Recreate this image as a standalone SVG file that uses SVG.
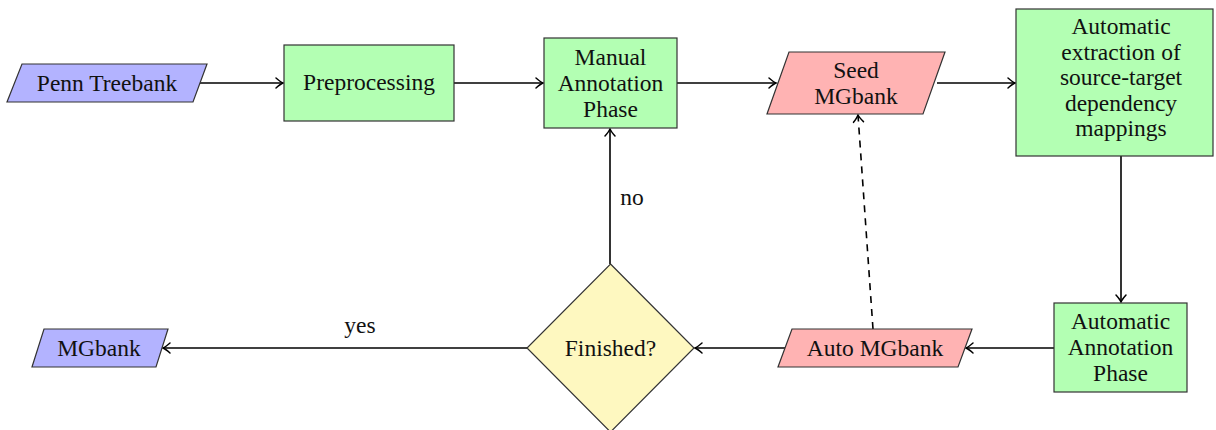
<svg xmlns="http://www.w3.org/2000/svg" width="1216" height="430" viewBox="0 0 1216 430">
  <defs>
    <marker id="arrow" markerUnits="userSpaceOnUse" markerWidth="14" markerHeight="14" viewBox="-8 -7 10 14" refX="0" refY="0" orient="auto">
      <path d="M -7 -5 Q -2.5 -1 0 0 Q -2.5 1 -7 5" fill="none" stroke="#000" stroke-width="1.5" stroke-linecap="round"/>
    </marker>
    <style>
      text { font-size: 23.5px; fill: #111; text-anchor: middle; }
      .data { fill: #b3b3ff; stroke: #333; stroke-width: 1.2; }
      .proc { fill: #b3ffb3; stroke: #333; stroke-width: 1.2; }
      .store { fill: #ffb3b3; stroke: #333; stroke-width: 1.2; }
      .decision { fill: #fef8c0; stroke: #333; stroke-width: 1.2; }
      .edge { fill: none; stroke: #000; stroke-width: 1.6; marker-end: url(#arrow); }
      .dashed { stroke-dasharray: 7 6; }
    </style>
  </defs>

  <g font-family="'Liberation Serif', 'DejaVu Serif', serif">
  <!-- connectors -->
  <g id="connectors">
    <line class="edge" x1="200" y1="83" x2="283" y2="83"/>
    <line class="edge" x1="454" y1="83" x2="543" y2="83"/>
    <line class="edge" x1="677" y1="83" x2="776" y2="83"/>
    <line class="edge" x1="937" y1="83" x2="1015" y2="83"/>
    <line class="edge" x1="1121" y1="156" x2="1121" y2="302"/>
    <line class="edge" x1="1054" y1="348" x2="966" y2="348"/>
    <line class="edge" x1="785" y1="348" x2="695" y2="348"/>
    <line class="edge dashed" x1="873" y1="329" x2="858" y2="115"/>
    <line class="edge" x1="610" y1="264" x2="610" y2="129"/>
    <line class="edge" x1="527" y1="348" x2="163" y2="348"/>
    <text x="632" y="205">no</text>
    <text x="360" y="333">yes</text>
  </g>

  <g id="penn-treebank">
    <polygon class="data" points="22,64 207,64 193,102 7,102"/>
    <text x="107" y="91">Penn Treebank</text>
  </g>

  <g id="preprocessing">
    <rect class="proc" x="284" y="45" width="170" height="76"/>
    <text x="369" y="90">Preprocessing</text>
  </g>

  <g id="manual-annotation">
    <rect class="proc" x="544" y="38" width="133" height="90"/>
    <text x="610.5" y="65">Manual</text>
    <text x="610.5" y="91">Annotation</text>
    <text x="610.5" y="117">Phase</text>
  </g>

  <g id="seed-mgbank">
    <polygon class="store" points="789,52 945,52 923,114 767,114"/>
    <text x="856" y="78">Seed</text>
    <text x="856" y="104">MGbank</text>
  </g>

  <g id="automatic-extraction">
    <rect class="proc" x="1016" y="9" width="197" height="147"/>
    <text x="1121" y="34">Automatic</text>
    <text x="1121" y="59.5">extraction of</text>
    <text x="1121" y="85">source-target</text>
    <text x="1121" y="110.5">dependency</text>
    <text x="1121" y="136">mappings</text>
  </g>

  <g id="automatic-annotation">
    <rect class="proc" x="1054" y="303" width="133" height="89"/>
    <text x="1120.5" y="329">Automatic</text>
    <text x="1120.5" y="355">Annotation</text>
    <text x="1120.5" y="381">Phase</text>
  </g>

  <g id="auto-mgbank">
    <polygon class="store" points="792,329 972,329 958,367 778,367"/>
    <text x="875" y="356">Auto MGbank</text>
  </g>

  <g id="finished">
    <polygon class="decision" points="610.5,264 694,348 610.5,432 527,348"/>
    <text x="610.5" y="356">Finished?</text>
  </g>

  <g id="mgbank">
    <polygon class="data" points="44,329 168,329 156,367 32,367"/>
    <text x="99" y="356">MGbank</text>
  </g>
  </g>
</svg>
